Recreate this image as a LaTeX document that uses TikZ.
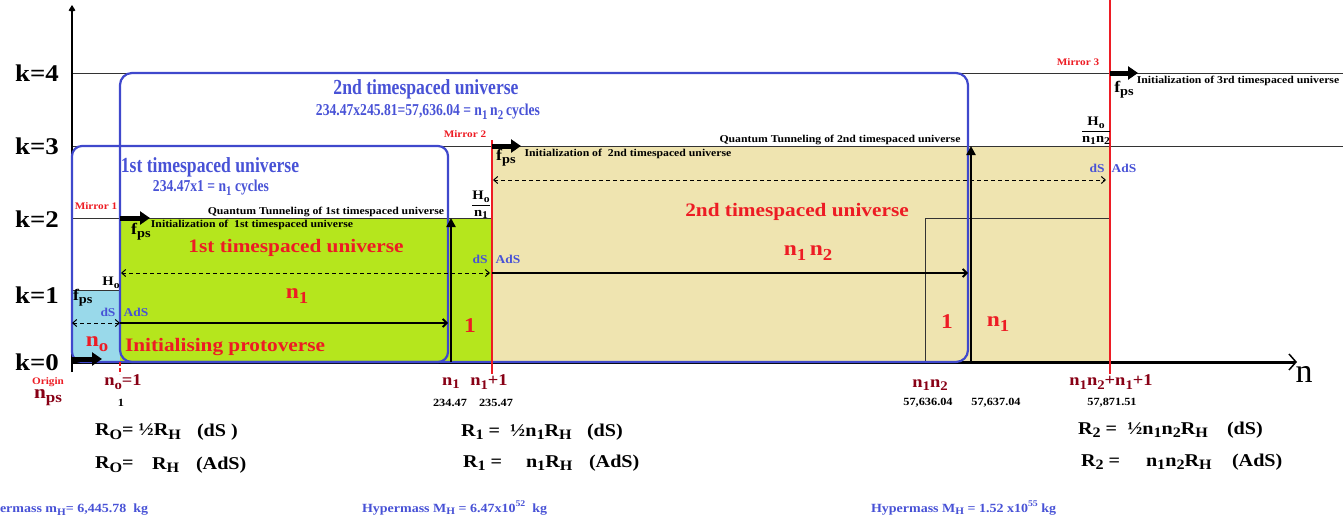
\documentclass[tikz,border=0pt]{standalone}
\usepackage{fontspec}
\usepackage{amsmath}
\setmainfont{Liberation Serif}
\newfontfamily\cam[FakeStretch=1.12]{Liberation Serif}
\newfontfamily\cnd[FakeStretch=0.82]{Liberation Serif}
\usetikzlibrary{arrows.meta}
\definecolor{ublue}{RGB}{63,72,204}
\definecolor{tblue}{RGB}{72,82,214}
\definecolor{ugreen}{RGB}{181,230,29}
\definecolor{ulight}{RGB}{153,217,234}
\definecolor{utan}{RGB}{239,228,176}
\definecolor{ured}{RGB}{237,28,36}
\definecolor{dred}{RGB}{136,0,21}
\newcommand\fsz[1]{\fontsize{#1}{#1}\selectfont}
\newcommand\lo[1]{\raisebox{-0.45ex}{\scalebox{0.8}{#1}}}
\newcommand\hi[1]{\raisebox{1.0ex}{\scalebox{0.7}{#1}}}
\tikzset{
  every node/.style={inner sep=0pt, outer sep=0pt},
  klab/.style={font=\cam\bfseries\fsz{24}},
  mirror/.style={text=ured, font=\cam\bfseries\fsz{10}},
  fpslab/.style={font=\cam\bfseries\fsz{16}},
  smalltxt/.style={font=\cam\bfseries\fsz{10.5}},
  bigred/.style={text=ured, font=\cam\bfseries\fsz{19}},
  redn/.style={text=ured, font=\cam\bfseries\fsz{21}},
  dslab/.style={text=tblue, font=\cam\bfseries\fsz{12}},
  btitle/.style={text=tblue, font=\cnd\bfseries\fsz{21.5}},
  bsub/.style={text=tblue, font=\cnd\bfseries\fsz{16.6}},
  axlab/.style={text=dred, font=\cam\bfseries\fsz{16.5}},
  numlab/.style={font=\cam\bfseries\fsz{11}},
  req/.style={font=\cam\bfseries\fsz{18}, anchor=west},
  mass/.style={text=tblue, font=\cam\bfseries\fsz{12.5}, anchor=west},
  fraclab/.style={font=\cam\bfseries\fsz{13}},
  thin/.style={line width=0.8pt, black!80},
  ubox/.style={ublue, line width=2.2pt},
  redline/.style={ured, line width=1.8pt},
  fpsarrow/.style={line width=5pt, -{Triangle[length=10pt,width=13pt]}},
  uparrow/.style={line width=2.6pt, -{Triangle[length=9pt,width=9pt]}},
  dasharrow/.style={line width=1pt, dash pattern=on 4pt off 3pt, {Straight Barb[length=4pt,width=7pt]}-{Straight Barb[length=4pt,width=7pt]}},
  solidarrow/.style={line width=1.8pt, -{Straight Barb[length=4pt,width=8pt]}}
}
\begin{document}
\begin{tikzpicture}[x=1pt, y=-1pt]
\useasboundingbox (0,0) rectangle (1343,522);
% fills
\fill[utan] (492,146) rectangle (1110,362);
\fill[ugreen] (120,218) rectangle (492,362);
\fill[ulight] (72,290) rectangle (120,362);
% thin level lines
\draw[thin] (72,73) -- (1343,73);
\draw[thin] (72,146) -- (1343,146);
\draw[thin] (72,218) -- (492,218);
\draw[thin] (72,290) -- (120,290);
\draw[thin] (925,362) -- (925,218) -- (1110,218);
% axes
\draw[line width=2pt, -{Straight Barb[length=4pt,width=5pt]}] (72,372) -- (72,5);
\draw[line width=3pt, -{Straight Barb[length=7pt,width=16pt,line width=1.5pt]}] (72,362) -- (1297,362);
% blue universes
\draw[ubox, rounded corners=10pt] (72,146) rectangle (448,362);
\draw[ubox, rounded corners=12pt] (120,73) rectangle (968,362);
% red mirrors
\draw[ured, line width=1.5pt, dash pattern=on 4pt off 2pt] (120,362) -- (120,374);
\draw[redline] (492,140) -- (492,374);
\draw[redline] (1110,0) -- (1110,374);
% vertical tunnelling arrows
\coordinate (t1b) at (451,362); \coordinate (t1t) at (451,218);
\coordinate (t2b) at (971,362); \coordinate (t2t) at (971,146);
\draw[uparrow] (t1b) -- (t1t);
\draw[uparrow] (t2b) -- (t2t);
% fps arrows
\coordinate (f0a) at (72,359); \coordinate (f0b) at (102,359);
\coordinate (f1a) at (120,218); \coordinate (f1b) at (150,218);
\coordinate (f2a) at (492,146); \coordinate (f2b) at (521,146);
\coordinate (f3a) at (1110,73); \coordinate (f3b) at (1138,73);
\draw[fpsarrow] (f0a) -- (f0b);
\draw[fpsarrow] (f1a) -- (f1b);
\draw[fpsarrow] (f2a) -- (f2b);
\draw[fpsarrow] (f3a) -- (f3b);
% dS / AdS arrows
\coordinate (d0a) at (72,323); \coordinate (d0b) at (120,323);
\coordinate (d1a) at (121,273); \coordinate (d1b) at (490,273);
\coordinate (d2a) at (493,180); \coordinate (d2b) at (1106,180);
\draw[dasharrow] (d0a) -- (d0b);
\draw[dasharrow] (d1a) -- (d1b);
\draw[dasharrow] (d2a) -- (d2b);
\coordinate (s1a) at (120,323); \coordinate (s1b) at (448,323);
\coordinate (s2a) at (492,273); \coordinate (s2b) at (968,273);
\draw[solidarrow] (s1a) -- (s1b);
\draw[solidarrow] (s2a) -- (s2b);
% k labels
\node[klab] (k4) at (37,73) {k=4};
\node[klab] (k3) at (37,146) {k=3};
\node[klab] (k2) at (37,219) {k=2};
\node[klab] (k1) at (37,295) {k=1};
\node[klab] (k0) at (37,362) {k=0};
% mirrors
\node[mirror] (m1) at (96,206) {Mirror 1};
\node[mirror] (m2) at (465,134) {Mirror 2};
\node[mirror] (m3) at (1078,62) {Mirror 3};
% fps labels
\node[fpslab, anchor=west] (fps0) at (73,298) {f\lo{ps}};
\node[fpslab] (fps1) at (141,232) {f\lo{ps}};
\node[fpslab] (fps2) at (506,158) {f\lo{ps}};
\node[fpslab] (fps3) at (1124,90) {f\lo{ps}};
% small texts
\node[smalltxt] (i1) at (252,225) {Initialization of~~1st timespaced universe};
\node[smalltxt] (q1) at (326,212) {Quantum Tunneling of 1st timespaced universe};
\node[smalltxt] (i2) at (628,154) {Initialization of~~2nd timespaced universe};
\node[smalltxt] (q2) at (840,140) {Quantum Tunneling of 2nd timespaced universe};
\node[smalltxt] (i3) at (1238,81) {Initialization of 3rd timespaced universe};
% H labels
\node[font=\cam\bfseries\fsz{13}] (h0) at (111,283) {H\lo{o}};
\node[fraclab] (h1) at (481,205) {$\dfrac{\mbox{H\lo{o}}}{\mbox{n\lo{1}}}$};
\node[fraclab] (h2) at (1096,131) {$\dfrac{\mbox{H\lo{o}}}{\mbox{n\lo{1}n\lo{2}}}$};
% dS AdS
\node[dslab] (ds0) at (108,312) {dS};
\node[dslab] (ads0) at (136,312) {AdS};
\node[dslab] (ds1) at (480,259) {dS};
\node[dslab] (ads1) at (508,259) {AdS};
\node[dslab] (ds2) at (1097,168) {dS};
\node[dslab] (ads2) at (1124,168) {AdS};
% red texts
\node[redn] (no) at (97,344) {n\lo{o}};
\node[bigred] (u1) at (296,248) {1st timespaced universe};
\node[redn] (n1a) at (297,296) {n\lo{1}};
\node[bigred] (ip) at (225,347) {Initialising protoverse};
\node[redn] (one1) at (470,326) {1};
\node[bigred] (u2) at (797,212) {2nd timespaced universe};
\node[redn] (n1n2) at (808,253) {n\lo{1}\,n\lo{2}};
\node[redn] (one2) at (947,322) {1};
\node[redn] (n1b) at (998,324) {n\lo{1}};
% blue titles
\node[btitle] (bt2) at (426,89) {2nd timespaced universe};
\node[bsub] (bs2) at (428,112) {234.47x245.81=57,636.04 = n\lo{1}\,n\lo{2}\,cycles};
\node[btitle] (bt1) at (210,167) {1st timespaced universe};
\node[bsub] (bs1) at (211,188) {234.47x1 = n\lo{1} cycles};
% axis labels
\node[mirror] (orig) at (48,382) {Origin};
\node[axlab, font=\cam\bfseries\fsz{19}] (nps) at (48,398) {n\lo{ps}};
\node[axlab] (no1) at (123,382) {n\lo{o}=1};
\node[numlab] (v0) at (121,403) {1};
\node[axlab] (ln1) at (451,383) {n\lo{1}};
\node[axlab] (ln1p) at (489,382) {n\lo{1}+1};
\node[numlab] (v1) at (450,403) {234.47};
\node[numlab] (v2) at (496,403) {235.47};
\node[axlab] (ln1n2) at (930,385) {n\lo{1}n\lo{2}};
\node[numlab] (v3) at (928,403) {57,636.04};
\node[numlab] (v4) at (996,403) {57,637.04};
\node[axlab] (lend) at (1111,382) {n\lo{1}n\lo{2}+n\lo{1}+1};
\node[numlab] (v5) at (1112,403) {57,871.51};
\node[font=\fsz{34}] (nax) at (1304,374) {n};
% radius equations
\node[req] (r0a) at (95,432) {R\lo{O}= ½R\lo{H}};
\node[req] (r0b) at (197,432) {(dS )};
\node[req] (r0c) at (95,465) {R\lo{O}=};
\node[req] (r0d) at (152,465) {R\lo{H}};
\node[req] (r0e) at (196,465) {(AdS)};
\node[req] (r1a) at (461,432) {R\lo{1} = ~½n\lo{1}R\lo{H}};
\node[req] (r1b) at (587,432) {(dS)};
\node[req] (r1c) at (463,463) {R\lo{1} =};
\node[req] (r1d) at (526,463) {n\lo{1}R\lo{H}};
\node[req] (r1e) at (589,463) {(AdS)};
\node[req] (r2a) at (1078,430) {R\lo{2} = ~½n\lo{1}n\lo{2}R\lo{H}};
\node[req] (r2b) at (1227,430) {(dS)};
\node[req] (r2c) at (1081,462) {R\lo{2} =};
\node[req] (r2d) at (1146,462) {n\lo{1}n\lo{2}R\lo{H}};
\node[req] (r2e) at (1232,462) {(AdS)};
% hypermass
\node[mass] (ms0) at (0,510) {ermass m\lo{H}= 6,445.78~~kg};
\node[mass] (ms1) at (362,508) {Hypermass M\lo{H} = 6.47x10\hi{52}~~kg};
\node[mass] (ms2) at (871,508) {Hypermass M\lo{H} = 1.52 x10\hi{55}~kg};
\end{tikzpicture}
\end{document}
